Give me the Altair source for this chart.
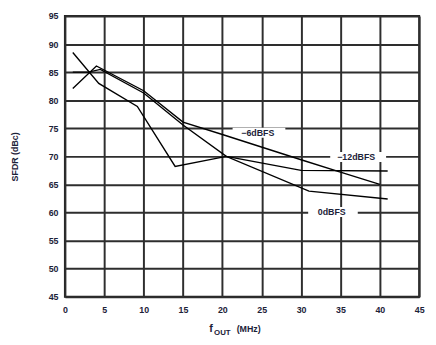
import altair as alt
import pandas as pd

# ---- data ----
freq_0dbfs = [1, 4.3, 9.2, 14, 20.5, 31, 41]
sfdr_0dbfs = [88.5, 83.0, 78.9, 68.2, 70.0, 63.8, 62.4]

freq_6dbfs = [1, 4, 10, 15, 20, 30, 35, 40]
sfdr_6dbfs = [82.1, 86.1, 81.7, 76.1, 73.9, 69.4, 67.2, 65.0]

freq_12dbfs = [1, 3, 4.5, 10, 15, 20.5, 30, 41]
sfdr_12dbfs = [85.0, 85.0, 85.5, 81.3, 75.6, 70.0, 67.5, 67.4]

x_ticks = [0, 5, 10, 15, 20, 25, 30, 35, 40, 45]
y_ticks = [45, 50, 55, 60, 65, 70, 75, 80, 85, 90, 95]

label_text = ["\u22126dBFS", "\u221212dBFS", "0dBFS"]
label_x = [24.5, 37.0, 33.9]
label_y = [74.2, 69.9, 60.1]
label_x0 = [21.3, 33.7, 30.9]
label_x1 = [28.0, 40.8, 37.2]
label_y0 = [73.3, 69.0, 59.2]
label_y1 = [75.1, 70.8, 61.0]

rows = []
for name, fx, fy in [("0dBFS", freq_0dbfs, sfdr_0dbfs),
                     ("-6dBFS", freq_6dbfs, sfdr_6dbfs),
                     ("-12dBFS", freq_12dbfs, sfdr_12dbfs)]:
    for i, (a, b) in enumerate(zip(fx, fy)):
        rows.append({"series": name, "f": a, "sfdr": b, "idx": i})
df = pd.DataFrame(rows)
df_lab = pd.DataFrame({"t": label_text, "x": label_x, "y": label_y,
                       "x0": label_x0, "x1": label_x1, "y0": label_y0, "y1": label_y1})

FONT = "Liberation Sans"
INK = "#1c2238"

xs = alt.Scale(domain=[0, 45], nice=False, zero=False)
ys = alt.Scale(domain=[45, 95], nice=False, zero=False)

xaxis = alt.Axis(values=x_ticks, title=None, grid=True, ticks=False, domain=False,
                 labelPadding=9, labelFlush=False, labelOverlap=False)
yaxis = alt.Axis(values=y_ticks, title="SFDR (dBc)", grid=True, ticks=False, domain=False,
                 labelPadding=7, labelOverlap=False, titleX=-51, titleY=143,
                 titleBaseline="middle", titleFontSize=9, titleFont=FONT,
                 titleFontWeight="bold", titleColor=INK)

boxes = alt.Chart(df_lab).mark_rect(color="white").encode(
    x=alt.X("x0:Q", scale=xs, axis=xaxis), x2="x1:Q",
    y=alt.Y("y0:Q", scale=ys, axis=yaxis), y2="y1:Q",
)

lines = alt.Chart(df).mark_line(color="black", strokeWidth=1.4).encode(
    x=alt.X("f:Q", scale=xs, axis=xaxis),
    y=alt.Y("sfdr:Q", scale=ys, axis=yaxis),
    detail="series:N",
    order="idx:Q",
)

labels = alt.Chart(df_lab).mark_text(font=FONT, fontWeight="bold", fontSize=9, color=INK).encode(
    x=alt.X("x:Q", scale=xs, axis=xaxis), y=alt.Y("y:Q", scale=ys, axis=yaxis), text="t:N"
)

t_f = alt.Chart(pd.DataFrame({"t": ["f"]})).mark_text(
    font=FONT, fontWeight="bold", fontSize=11, color=INK, align="left", baseline="middle"
).encode(x=alt.value(147), y=alt.value(319), text="t:N")
t_out = alt.Chart(pd.DataFrame({"t": ["OUT"]})).mark_text(
    font=FONT, fontWeight="bold", fontSize=8, color=INK, align="left", baseline="middle"
).encode(x=alt.value(152), y=alt.value(323), text="t:N")
t_mhz = alt.Chart(pd.DataFrame({"t": ["(MHz)"]})).mark_text(
    font=FONT, fontWeight="bold", fontSize=9, color=INK, align="left", baseline="middle"
).encode(x=alt.value(175), y=alt.value(319), text="t:N")

chart = alt.layer(boxes, lines, labels, t_f, t_out, t_mhz).properties(
    width=361, height=286, autosize="none",
    padding={"left": 58, "top": 5, "right": 9, "bottom": 46},
).configure_axis(
    gridColor="#2e2e2e", gridWidth=2, gridOpacity=1,
    labelFont=FONT, labelFontWeight="bold", labelFontSize=9, labelColor=INK,
).configure_view(
    stroke="#222222", strokeWidth=2
)

chart.save("out.html", embed_options={"renderer": "svg", "actions": False})
